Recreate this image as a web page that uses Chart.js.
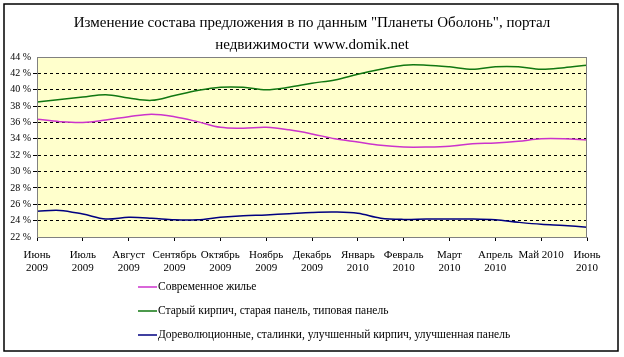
<!DOCTYPE html>
<html><head><meta charset="utf-8">
<script src="https://cdn.jsdelivr.net/npm/chart.js@4/dist/chart.umd.min.js"></script>
<style>html,body{margin:0;padding:0;background:#fff}canvas{display:block}</style>
</head><body>
<canvas id="c" width="624" height="357"></canvas>
<script>
const titleLines = ['Изменение состава предложения в по данным "Планеты Оболонь", портал', 'недвижимости www.domik.net'];
const monthLabels = [['Июнь','2009'],['Июль','2009'],['Август','2009'],['Сентябрь','2009'],['Октябрь','2009'],['Ноябрь','2009'],['Декабрь','2009'],['Январь','2010'],['Февраль','2010'],['Март','2010'],['Апрель','2010'],['Май 2010',''],['Июнь','2010']];
const seriesNames = ['Современное жилье','Старый кирпич, старая панель, типовая панель','Дореволюционные, сталинки, улучшенный кирпич, улучшенная панель'];
// semi-monthly readings (%)
const modern = [36.4,36.1,36.0,36.3,36.7,37.0,36.7,36.1,35.4,35.3,35.4,35.1,34.6,34.0,33.6,33.2,33.0,33.0,33.1,33.4,33.5,33.7,34.0,34.0,33.85];
const oldStock = [38.5,38.8,39.1,39.4,39.0,38.7,39.3,39.9,40.3,40.3,40.0,40.3,40.8,41.2,41.9,42.5,43.0,43.0,42.8,42.5,42.8,42.8,42.5,42.7,43.0];
const preRev = [25.15,25.25,24.8,24.2,24.4,24.3,24.1,24.1,24.4,24.6,24.7,24.85,25.0,25.05,24.9,24.3,24.15,24.2,24.2,24.2,24.1,23.8,23.55,23.4,23.2];
const colors = ['#CC33CC','#117711','#000080'];

const toPts = arr => arr.map((v,i)=>({x:i/2,y:v}));
const FONT = '"Liberation Serif","Times New Roman",serif';

const deco = {
  id:'deco',
  beforeDraw(chart){
    const {ctx, chartArea:a} = chart;
    ctx.save();
    ctx.fillStyle='#fff'; ctx.fillRect(0,0,chart.width,chart.height);
    ctx.fillStyle='#FFFFCC'; ctx.fillRect(a.left,a.top,a.right-a.left,a.bottom-a.top);
    ctx.restore();
  },
  afterDraw(chart){
    const {ctx, chartArea:a} = chart;
    ctx.save();
    ctx.strokeStyle='#808080'; ctx.lineWidth=1;
    ctx.strokeRect(a.left+0.5,a.top+0.5,a.right-a.left-1,a.bottom-a.top);
    ctx.strokeStyle='#000'; ctx.lineWidth=1.5;
    ctx.strokeRect(4,4,614,347);
    // title
    ctx.fillStyle='#000'; ctx.font='15px '+FONT; ctx.textAlign='center'; ctx.textBaseline='middle';
    ctx.fillText(titleLines[0],312,23);
    ctx.fillText(titleLines[1],312,45);
    // legend
    ctx.font='11.5px '+FONT; ctx.textAlign='left';
    chart.data.datasets.forEach((ds,i)=>{
      const y = 287 + i*24;
      ctx.strokeStyle=ds.borderColor; ctx.lineWidth=1.5;
      ctx.beginPath(); ctx.moveTo(138,y); ctx.lineTo(157,y); ctx.stroke();
      ctx.fillStyle='#000'; ctx.fillText(ds.label,158,y);
    });
    ctx.restore();
  }
};

new Chart(document.getElementById('c'),{
  type:'line',
  data:{datasets:[modern,oldStock,preRev].map((d,i)=>({label:seriesNames[i],data:toPts(d),borderColor:colors[i],borderWidth:1.5,pointRadius:0,tension:0.35,fill:false}))},
  options:{
    responsive:false, animation:false,
    layout:{padding:{top:57,left:0,right:37,bottom:0}},
    plugins:{legend:{display:false},title:{display:false},tooltip:{enabled:false}},
    scales:{
      x:{type:'linear',min:0,max:12,
        ticks:{stepSize:1,autoSkip:false,maxRotation:0,color:'#000',font:{family:FONT,size:11,lineHeight:1.15},padding:8,
          callback:(v)=>monthLabels[v]},
        grid:{drawOnChartArea:false,tickLength:4,color:'#000'},
        border:{color:'#808080'},
        afterFit:s=>{s.height=120;}
      },
      y:{min:22,max:44,
        ticks:{stepSize:2,color:'#000',font:{family:FONT,size:10},padding:2,callback:v=>v+' %'},
        grid:{tickLength:4,color:ctx=>(ctx.tick&&(ctx.tick.value===22||ctx.tick.value===44))?'rgba(0,0,0,0)':'#000',lineWidth:1},
        border:{dash:[3,3],color:'#808080'},
        afterFit:s=>{s.width=37;}
      }
    }
  },
  plugins:[deco]
});
</script>
</body></html>
